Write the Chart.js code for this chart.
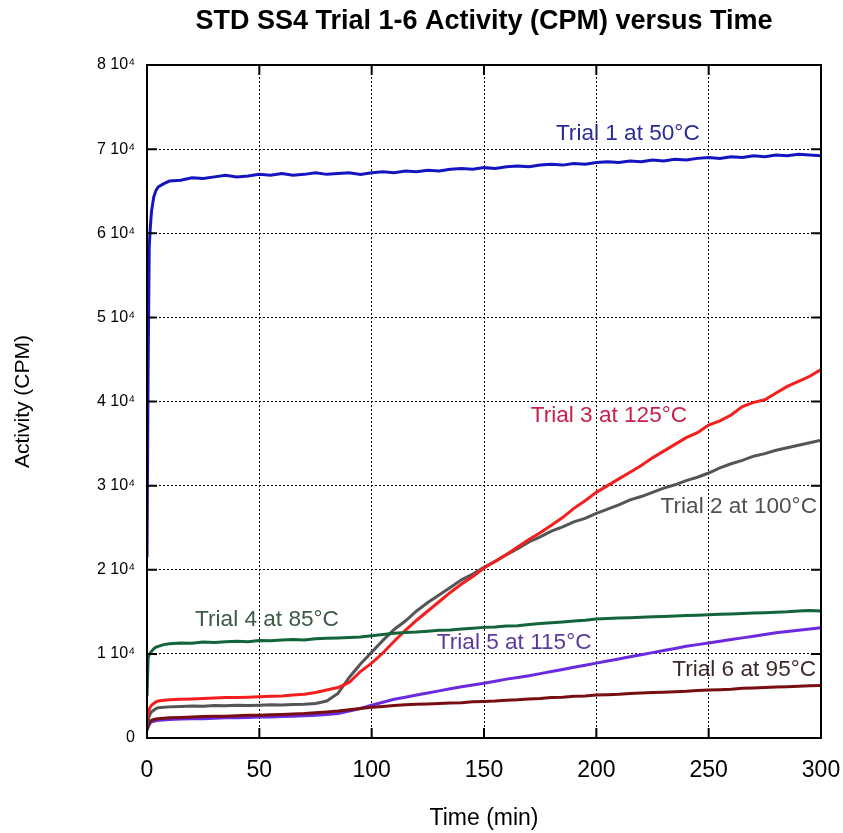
<!DOCTYPE html>
<html>
<head>
<meta charset="utf-8">
<title>STD SS4 Trial 1-6 Activity (CPM) versus Time</title>
<script src="https://cdn.jsdelivr.net/npm/chart.js@4.4.1/dist/chart.umd.min.js"></script>
<style>
  html, body { margin: 0; padding: 0; background: #ffffff; }
  #wrap { width: 843px; height: 833px; }
</style>
</head>
<body>
<div id="wrap"><canvas id="chart" width="843" height="833"></canvas></div>
<script>
// Sampling times (min)
const times = [0, 0.5, 1, 1.5, 2, 3, 4, 5, 7.5, 10, 15, 20, 25, 30, 35, 40, 45, 50, 55, 60,
  65, 70, 75, 80, 85, 90, 95, 100, 105, 110, 115, 120, 125, 130, 135, 140, 145, 150, 155, 160,
  165, 170, 175, 180, 185, 190, 195, 200, 205, 210, 215, 220, 225, 230, 235, 240, 245, 250, 255, 260,
  265, 270, 275, 280, 285, 290, 295, 300];

// Activity (CPM) per trial
const trial1 = [21500, 44000, 58500, 60800, 62600, 64300, 65100, 65500, 65900, 66200, 66300, 66600, 66500, 66700, 66900, 66700, 66800, 67000, 66900, 67100,
  66900, 67000, 67200, 67000, 67100, 67200, 67000, 67200, 67300, 67200, 67400, 67300, 67500, 67400, 67600, 67700, 67600, 67800, 67700, 67900,
  68000, 67900, 68100, 68200, 68100, 68300, 68200, 68400, 68500, 68400, 68600, 68500, 68700, 68600, 68800, 68700, 68900, 69000, 68900, 69100,
  69000, 69200, 69100, 69300, 69200, 69400, 69300, 69200];
const trial2 = [1500, 2100, 2600, 2900, 3100, 3300, 3500, 3600, 3650, 3700, 3750, 3800, 3780, 3850, 3820, 3900, 3870, 3900, 3950, 3920,
  3980, 4000, 4100, 4400, 5300, 7200, 8800, 10200, 11600, 12900, 13900, 15100, 16100, 17000, 17900, 18800, 19500, 20300, 21000, 21800,
  22500, 23300, 23900, 24600, 25100, 25700, 26100, 26700, 27200, 27700, 28300, 28700, 29200, 29700, 30100, 30600, 31000, 31500, 32100, 32600,
  33000, 33500, 33800, 34200, 34500, 34800, 35100, 35400];
const trial3 = [2200, 2900, 3400, 3700, 3900, 4100, 4300, 4400, 4500, 4550, 4600, 4650, 4700, 4750, 4800, 4800, 4850, 4900, 4950, 5000,
  5100, 5200, 5400, 5700, 6000, 6600, 7900, 8900, 10100, 11500, 12800, 14000, 15100, 16200, 17300, 18300, 19200, 20200, 21000, 21800,
  22700, 23600, 24400, 25300, 26200, 27300, 28200, 29200, 30000, 30800, 31600, 32400, 33300, 34100, 34900, 35700, 36300, 37200, 37700, 38400,
  39400, 39900, 40200, 41000, 41800, 42400, 43000, 43800];
const trial4 = [5000, 9500, 9900, 10100, 10300, 10600, 10800, 10900, 11100, 11200, 11300, 11250, 11400, 11350, 11450, 11500, 11450, 11600, 11550, 11650,
  11700, 11650, 11800, 11850, 11900, 11950, 12000, 12150, 12300, 12450, 12550, 12600, 12700, 12800, 12850, 12950, 13050, 13150, 13200, 13300,
  13350, 13500, 13600, 13700, 13800, 13900, 14000, 14150, 14200, 14250, 14300, 14350, 14400, 14450, 14500, 14550, 14600, 14650, 14700, 14750,
  14800, 14850, 14900, 14950, 15000, 15100, 15150, 15100];
const trial5 = [900, 1300, 1600, 1800, 1900, 2000, 2050, 2100, 2150, 2200, 2250, 2300, 2300, 2350, 2400, 2400, 2450, 2500, 2500, 2550,
  2600, 2650, 2700, 2800, 2900, 3200, 3500, 3900, 4250, 4600, 4850, 5100, 5350, 5600, 5850, 6100, 6300, 6500, 6750, 7000,
  7200, 7400, 7650, 7900, 8150, 8400, 8650, 8900, 9150, 9400, 9650, 9900, 10150, 10400, 10650, 10900, 11100, 11300, 11500, 11700,
  11900, 12100, 12300, 12500, 12650, 12800, 12950, 13100];
const trial6 = [1000, 1500, 1800, 2000, 2100, 2200, 2250, 2300, 2350, 2400, 2450, 2500, 2550, 2600, 2600, 2650, 2700, 2700, 2750, 2800,
  2850, 2900, 3000, 3100, 3200, 3350, 3500, 3650, 3750, 3850, 3950, 4000, 4050, 4100, 4150, 4200, 4300, 4350, 4400, 4500,
  4550, 4650, 4700, 4800, 4850, 4950, 5000, 5100, 5150, 5200, 5300, 5350, 5400, 5450, 5500, 5550, 5650, 5700, 5750, 5800,
  5900, 5950, 6000, 6050, 6100, 6150, 6200, 6250];

// Axis ticks
const xTicks = [0, 50, 100, 150, 200, 250, 300];
const yTicks = [0, 10000, 20000, 30000, 40000, 50000, 60000, 70000, 80000];

const FONT = "'Liberation Sans', Arial, Helvetica, sans-serif";

function pts(vals) {
  return vals.map((v, i) => ({ x: times[i], y: v }));
}

// Curve annotations, placed in data coordinates
const curveLabels = [
  { text: 'Trial 1 at 50°C',  color: '#2a2a9c', x: 182,   y: 71850, align: 'left' },
  { text: 'Trial 3 at 125°C', color: '#c8204c', x: 240.4, y: 38360, align: 'right' },
  { text: 'Trial 2 at 100°C', color: '#505050', x: 298.2, y: 27430, align: 'right' },
  { text: 'Trial 4 at 85°C',  color: '#3c5a44', x: 21.4,  y: 14010, align: 'left' },
  { text: 'Trial 5 at 115°C', color: '#5a3a9c', x: 129,   y: 11280, align: 'left' },
  { text: 'Trial 6 at 95°C',  color: '#3c2a2a', x: 297.8, y: 8080,  align: 'right' }
];

// Frame round the plot with inward tick marks, plus the curve annotations
const framePlugin = {
  id: 'frame',
  afterDatasetsDraw(chart) {
    const { ctx, chartArea: a, scales } = chart;
    const xs = scales.x, ys = scales.y;
    const len = 10;
    ctx.save();
    ctx.strokeStyle = '#000';
    ctx.lineWidth = 2;
    ctx.strokeRect(a.left, a.top, a.right - a.left, a.bottom - a.top);
    ctx.beginPath();
    xs.ticks.forEach(t => {
      const px = xs.getPixelForValue(t.value);
      ctx.moveTo(px, a.bottom); ctx.lineTo(px, a.bottom - len);
      ctx.moveTo(px, a.top); ctx.lineTo(px, a.top + len);
    });
    ys.ticks.forEach(t => {
      const py = ys.getPixelForValue(t.value);
      ctx.moveTo(a.left, py); ctx.lineTo(a.left + len, py);
      ctx.moveTo(a.right, py); ctx.lineTo(a.right - len, py);
    });
    ctx.stroke();

    ctx.font = '22.6px ' + FONT;
    ctx.textBaseline = 'middle';
    curveLabels.forEach(l => {
      ctx.fillStyle = l.color;
      ctx.textAlign = l.align;
      ctx.fillText(l.text, xs.getPixelForValue(l.x), ys.getPixelForValue(l.y));
    });
    ctx.restore();
  }
};

const line = (label, vals, color, order) => ({
  label, data: pts(vals), borderColor: color, backgroundColor: color,
  borderWidth: 3, pointRadius: 0, tension: 0, fill: false, order
});

new Chart(document.getElementById('chart'), {
  type: 'line',
  data: {
    datasets: [
      line('Trial 1 at 50°C', trial1, '#1414c0', 1),
      line('Trial 4 at 85°C', trial4, '#14643a', 2),
      line('Trial 3 at 125°C', trial3, '#f51e1e', 3),
      line('Trial 2 at 100°C', trial2, '#555555', 4),
      line('Trial 6 at 95°C', trial6, '#780e12', 5),
      line('Trial 5 at 115°C', trial5, '#6a2ade', 6)
    ]
  },
  options: {
    responsive: false,
    animation: false,
    devicePixelRatio: 1,
    layout: { padding: { top: 0, left: 0, right: 22, bottom: 0 } },
    plugins: {
      legend: { display: false },
      tooltip: { enabled: false },
      title: {
        display: true,
        fullSize: false,
        text: 'STD SS4 Trial 1-6 Activity (CPM) versus Time',
        color: '#000',
        font: { family: FONT, size: 27, weight: 'bold' },
        padding: { top: 5.5, bottom: 27.1 }
      }
    },
    scales: {
      x: {
        type: 'linear',
        min: 0, max: 300,
        afterBuildTicks(scale) { scale.ticks = xTicks.map(v => ({ value: v })); },
        afterFit(scale) { scale.height = 95; scale.paddingLeft = 0; scale.paddingRight = 0; },
        ticks: { color: '#000', font: { family: FONT, size: 23 }, padding: 19, maxRotation: 0 },
        grid: { color: '#000', lineWidth: 1, drawTicks: false },
        border: { display: false, dash: [2, 2] },
        title: {
          display: true, text: 'Time (min)', color: '#000',
          font: { family: FONT, size: 23 }, padding: { top: 0, bottom: 1 }
        }
      },
      y: {
        type: 'linear',
        min: 0, max: 80000,
        afterBuildTicks(scale) { scale.ticks = yTicks.map(v => ({ value: v })); },
        afterFit(scale) { scale.width = 147; },
        ticks: {
          color: '#000', font: { family: FONT, size: 16 }, padding: 12,
          callback: v => v === 0 ? '0' : (v / 10000) + ' 10\u2074'
        },
        grid: { color: '#000', lineWidth: 1, drawTicks: false },
        border: { display: false, dash: [2, 2] },
        title: {
          display: true, text: 'Activity (CPM)', color: '#000',
          font: { family: FONT, size: 21 }, padding: { top: 11, bottom: 0 }
        }
      }
    }
  },
  plugins: [framePlugin]
});
</script>
</body>
</html>
